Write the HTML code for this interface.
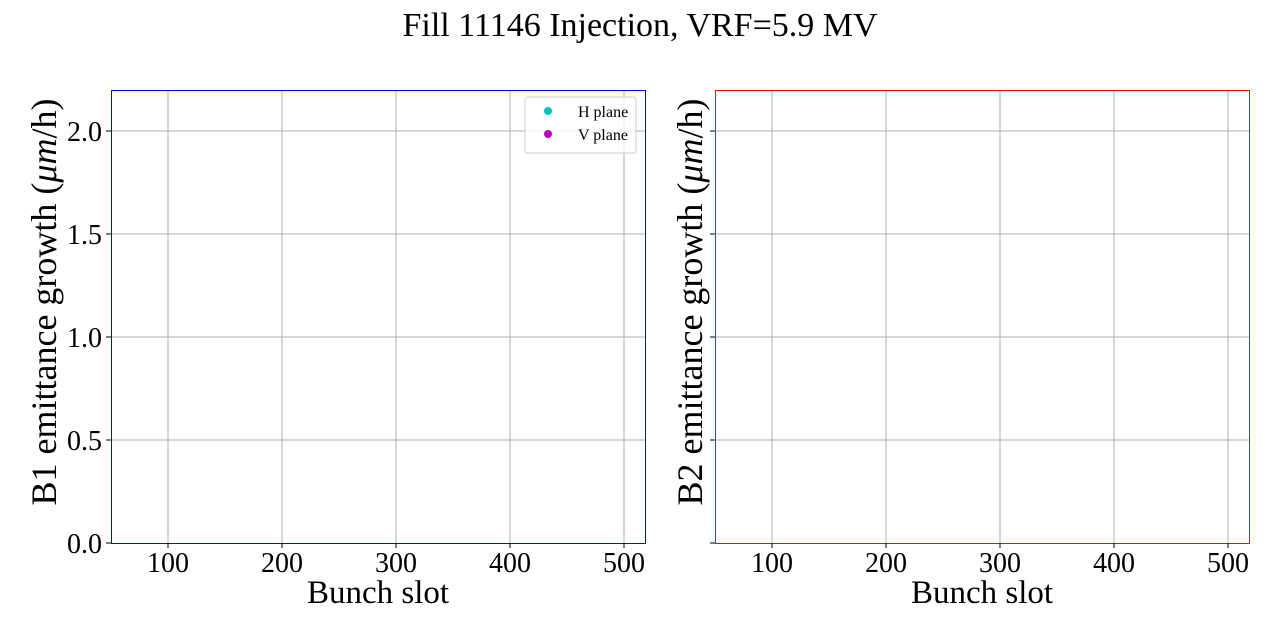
<!DOCTYPE html>
<html><head><style>body{margin:0;background:#fff}svg{display:block}text{font-family:"Liberation Serif",serif;fill:#000}</style></head><body>
<svg width="1280" height="640" viewBox="0 0 1280 640" xmlns="http://www.w3.org/2000/svg">
<text x="640" y="36" font-size="34" text-anchor="middle">Fill 11146 Injection, VRF=5.9 MV</text>
<g stroke="#b0b0b0" stroke-width="1">
<line x1="168" y1="90" x2="168" y2="543"/><line x1="282" y1="90" x2="282" y2="543"/><line x1="396" y1="90" x2="396" y2="543"/><line x1="510" y1="90" x2="510" y2="543"/><line x1="624" y1="90" x2="624" y2="543"/>
<line x1="111" y1="440" x2="645" y2="440"/><line x1="111" y1="337" x2="645" y2="337"/><line x1="111" y1="234" x2="645" y2="234"/><line x1="111" y1="131" x2="645" y2="131"/>
<line x1="772" y1="90" x2="772" y2="543"/><line x1="886" y1="90" x2="886" y2="543"/><line x1="1000" y1="90" x2="1000" y2="543"/><line x1="1114" y1="90" x2="1114" y2="543"/><line x1="1228" y1="90" x2="1228" y2="543"/>
<line x1="715" y1="440" x2="1249" y2="440"/><line x1="715" y1="337" x2="1249" y2="337"/><line x1="715" y1="234" x2="1249" y2="234"/><line x1="715" y1="131" x2="1249" y2="131"/>
</g>
<rect x="111.5" y="90.5" width="534" height="453" fill="none" stroke="#0000ff" stroke-width="1"/>
<rect x="715.5" y="90.5" width="534" height="453" fill="none" stroke="#ff0000" stroke-width="1"/>
<g stroke="#000" stroke-width="1">
<line x1="106" y1="543" x2="111" y2="543"/><line x1="106" y1="440" x2="111" y2="440"/><line x1="106" y1="337" x2="111" y2="337"/><line x1="106" y1="234" x2="111" y2="234"/><line x1="106" y1="131" x2="111" y2="131"/>
<line x1="710" y1="543" x2="715" y2="543"/><line x1="710" y1="440" x2="715" y2="440"/><line x1="710" y1="337" x2="715" y2="337"/><line x1="710" y1="234" x2="715" y2="234"/><line x1="710" y1="131" x2="715" y2="131"/>
<line x1="168" y1="543" x2="168" y2="548"/><line x1="282" y1="543" x2="282" y2="548"/><line x1="396" y1="543" x2="396" y2="548"/><line x1="510" y1="543" x2="510" y2="548"/><line x1="624" y1="543" x2="624" y2="548"/>
<line x1="772" y1="543" x2="772" y2="548"/><line x1="886" y1="543" x2="886" y2="548"/><line x1="1000" y1="543" x2="1000" y2="548"/><line x1="1114" y1="543" x2="1114" y2="548"/><line x1="1228" y1="543" x2="1228" y2="548"/>
</g>
<g font-size="28" text-anchor="end">
<text x="102" y="553">0.0</text><text x="102" y="450">0.5</text><text x="102" y="347">1.0</text><text x="102" y="244">1.5</text><text x="102" y="141">2.0</text>
</g>
<g font-size="28" text-anchor="middle">
<text x="168" y="572">100</text><text x="282" y="572">200</text><text x="396" y="572">300</text><text x="510" y="572">400</text><text x="624" y="572">500</text>
<text x="772" y="572">100</text><text x="886" y="572">200</text><text x="1000" y="572">300</text><text x="1114" y="572">400</text><text x="1228" y="572">500</text>
</g>
<g font-size="33" text-anchor="middle">
<text x="378" y="603">Bunch slot</text><text x="982" y="603">Bunch slot</text>
</g>
<g font-size="36" text-anchor="middle">
<text transform="translate(56,302) rotate(-90)">B1 emittance growth (<tspan font-style="italic">μm</tspan>/h)</text>
<text transform="translate(702,302) rotate(-90)">B2 emittance growth (<tspan font-style="italic">μm</tspan>/h)</text>
</g>
<rect x="525" y="97" width="111" height="56" rx="3" fill="#fff" fill-opacity="0.8" stroke="#ccc"/>
<circle cx="548" cy="111" r="4" fill="#00bfbf"/><circle cx="548" cy="134" r="4" fill="#bf00bf"/>
<text x="578" y="117" font-size="16">H plane</text><text x="578" y="140" font-size="16">V plane</text>
</svg>
</body></html>
